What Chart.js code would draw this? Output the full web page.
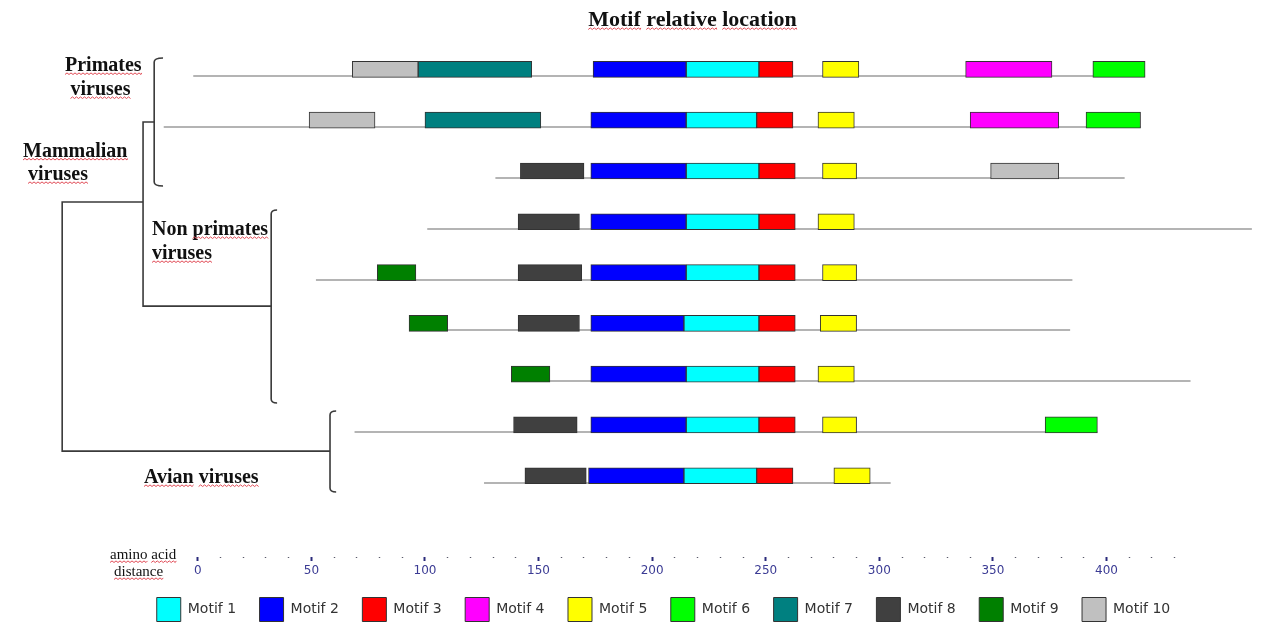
<!DOCTYPE html>
<html>
<head>
<meta charset="utf-8">
<title>Motif relative location</title>
<script src="https://cdn.jsdelivr.net/npm/chart.js@4.4.1/dist/chart.umd.min.js"></script>
<style>
  html, body { margin: 0; padding: 0; background: #ffffff; }
  canvas { display: block; }
</style>
</head>
<body>
<canvas id="motifs" width="1271" height="626"></canvas>
<script>
// Motif legend entries and their fill colours
const motifNames = ['Motif 1', 'Motif 2', 'Motif 3', 'Motif 4', 'Motif 5',
                    'Motif 6', 'Motif 7', 'Motif 8', 'Motif 9', 'Motif 10'];
const motifColors = ['#00ffff', '#0000ff', '#ff0000', '#ff00ff', '#ffff00',
                     '#00ff00', '#008080', '#404040', '#008000', '#c0c0c0'];

// Sequence extents (amino acid positions), one entry per sequence row, top to bottom
const seqStart = [-2, -15, 131, 101, 52, 93, 138, 69, 126];
const seqEnd   = [417, 415, 408, 464, 385, 384, 437, 396, 305];

// Motif hits per sequence row: [start, end] in amino acids, null when absent
const motif1  = [[215, 247], [215, 246], [215, 247], [215, 247], [215, 247], [214, 247], [215, 247], [215, 247], [214, 246]];
const motif2  = [[174, 215], [173, 215], [173, 215], [173, 215], [173, 215], [173, 214], [173, 215], [173, 215], [172, 214]];
const motif3  = [[247, 262], [246, 262], [247, 263], [247, 263], [247, 263], [247, 263], [247, 263], [247, 263], [246, 262]];
const motif4  = [[338, 376], [340, 379], null, null, null, null, null, null, null];
const motif5  = [[275, 291], [273, 289], [275, 290], [273, 289], [275, 290], [274, 290], [273, 289], [275, 290], [280, 296]];
const motif6  = [[394, 417], [391, 415], null, null, null, null, null, [373, 396], null];
const motif7  = [[97, 147], [100, 151], null, null, null, null, null, null, null];
const motif8  = [null, null, [142, 170], [141, 168], [141, 169], [141, 168], null, [139, 167], [144, 171]];
const motif9  = [null, null, null, null, [79, 96], [93, 110], [138, 155], null, null];
const motif10 = [[68, 97], [49, 78], [349, 379], null, null, null, null, null, null];

// Axis tick labelling
const axisStep = 10;
const axisLabelStep = 50;
const axisFirst = 0;
const axisLast = 430;
const axisLabelLast = 400;

const motifHits = [motif1, motif2, motif3, motif4, motif5, motif6, motif7, motif8, motif9, motif10];

const datasets = motifHits.map((hits, k) => ({
  label: motifNames[k],
  data: hits.map((h, row) => h ? { x: h, y: row } : null).filter(Boolean),
  backgroundColor: motifColors[k],
  borderColor: '#333333',
  borderWidth: 1,
  borderSkipped: false,
  barThickness: 16,
  grouped: false
}));

// red wavy underline under a word
function squiggle(ctx, x1, x2, y) {
  ctx.save();
  ctx.beginPath();
  ctx.strokeStyle = '#e04a55';
  ctx.lineWidth = 1;
  ctx.moveTo(x1, y);
  let up = true;
  for (let x = x1; x < x2; x += 2) {
    ctx.lineTo(Math.min(x + 2, x2), up ? y - 1.6 : y);
    up = !up;
  }
  ctx.stroke();
  ctx.restore();
}

function wavyText(ctx, text, x, y, plain = []) {
  ctx.fillText(text, x, y);
  const space = ctx.measureText(' ').width;
  let cursor = x;
  text.split(' ').forEach(word => {
    const w = ctx.measureText(word).width;
    if (!plain.includes(word)) squiggle(ctx, cursor, cursor + w, y + 3.5);
    cursor += w + space;
  });
}

function bracket(ctx, X, Y, xv, top, bottom, serifEnd) {
  const x = X(xv), xs = X(serifEnd), yt = Y(top), yb = Y(bottom);
  ctx.beginPath();
  ctx.moveTo(xs, yt);
  ctx.quadraticCurveTo(x, yt, x, yt + 4);
  ctx.lineTo(x, yb - 4);
  ctx.quadraticCurveTo(x, yb, xs, yb);
  ctx.stroke();
}

const decorations = {
  id: 'decorations',
  beforeDatasetsDraw(chart) {
    const { ctx, scales: { x, y } } = chart;
    ctx.save();
    ctx.strokeStyle = '#b4b4b4';
    ctx.lineWidth = 2;
    seqStart.forEach((s, row) => {
      const py = Math.round(y.getPixelForValue(row) + 7);
      ctx.beginPath();
      ctx.moveTo(x.getPixelForValue(s), py);
      ctx.lineTo(x.getPixelForValue(seqEnd[row]), py);
      ctx.stroke();
    });
    ctx.restore();
  },
  afterDraw(chart) {
    const { ctx, scales: { x, y } } = chart;
    const X = v => x.getPixelForValue(v);
    const Y = v => y.getPixelForValue(v);
    ctx.save();

    // tree linking the virus groups
    ctx.strokeStyle = '#3a3a3a';
    ctx.lineWidth = 1.6;
    ctx.lineCap = 'butt';
    bracket(ctx, X, Y, -19.2, -0.224, 2.296, -15.3);
    bracket(ctx, X, Y, 32.3, 2.768, 6.568, 34.9);
    bracket(ctx, X, Y, 58.2, 6.726, 8.32, 60.9);
    ctx.beginPath();
    // primates node
    ctx.moveTo(X(-19.2), Y(1.036));
    ctx.lineTo(X(-24.1), Y(1.036));
    ctx.lineTo(X(-24.1), Y(4.66));
    ctx.lineTo(X(32.3), Y(4.66));
    // mammalian node
    ctx.moveTo(X(-24.1), Y(2.61));
    ctx.lineTo(X(-59.7), Y(2.61));
    ctx.lineTo(X(-59.7), Y(7.515));
    ctx.lineTo(X(58.2), Y(7.515));
    ctx.stroke();

    // group names
    ctx.fillStyle = '#111111';
    ctx.textAlign = 'left';
    ctx.textBaseline = 'alphabetic';
    ctx.font = 'bold 20px "Liberation Serif"';
    wavyText(ctx, 'Primates', 65, 71);
    wavyText(ctx, 'viruses', 70.5, 95);
    wavyText(ctx, 'Mammalian', 23, 156.5);
    wavyText(ctx, 'viruses', 28, 180);
    wavyText(ctx, 'Non primates', 152, 235, ['Non']);
    wavyText(ctx, 'viruses', 152, 259);
    wavyText(ctx, 'Avian viruses', 144, 483);

    // title
    ctx.font = 'bold 22px "Liberation Serif"';
    const title = 'Motif relative location';
    const tw = ctx.measureText(title).width;
    wavyText(ctx, title, 692.5 - tw / 2, 26);

    // axis caption
    ctx.font = '15px "Liberation Serif"';
    wavyText(ctx, 'amino acid', 110, 559);
    wavyText(ctx, 'distance', 114, 576);
    ctx.restore();
  }
};

const isMajor = v => v % axisLabelStep === 0;
const inAxis = v => v >= axisFirst && v <= axisLast;

new Chart(document.getElementById('motifs'), {
  type: 'bar',
  data: { datasets },
  options: {
    responsive: false,
    animation: false,
    indexAxis: 'y',
    layout: { padding: { left: 61.5, right: 5.5, top: 44, bottom: 0 } },
    scales: {
      x: {
        type: 'linear',
        position: 'bottom',
        min: -60,
        max: 470,
        border: { display: false },
        grid: {
          drawOnChartArea: false,
          drawTicks: true,
          tickLength: 4,
          tickWidth: c => (c.tick && isMajor(c.tick.value)) ? 2 : 1.4,
          tickColor: c => {
            if (!c.tick || !inAxis(c.tick.value)) return 'rgba(0,0,0,0)';
            return isMajor(c.tick.value) ? '#2a2a7a' : '#5a5a6a';
          },
          tickBorderDash: c => (c.tick && isMajor(c.tick.value)) ? [] : [3, 3],
          tickBorderDashOffset: c => (c.tick && isMajor(c.tick.value)) ? 0 : 2
        },
        ticks: {
          stepSize: axisStep,
          autoSkip: false,
          maxRotation: 0,
          minRotation: 0,
          padding: 3,
          color: '#3b3b94',
          font: { family: 'DejaVu Sans', size: 12 },
          callback: v => (v >= axisFirst && v <= axisLabelLast && isMajor(v)) ? String(v) : ''
        },
        afterFit: s => { s.height = 17; }
      },
      y: {
        type: 'linear',
        min: -0.5,
        max: 9.6,
        reverse: true,
        offset: false,
        display: false
      }
    },
    plugins: {
      title: { display: false },
      tooltip: { enabled: false },
      legend: {
        position: 'bottom',
        maxHeight: 52,
        labels: {
          boxWidth: 24,
          boxHeight: 24,
          padding: 23.5,
          color: '#333333',
          font: { family: 'DejaVu Sans', size: 14 }
        }
      }
    }
  },
  plugins: [decorations]
});
</script>
</body>
</html>
